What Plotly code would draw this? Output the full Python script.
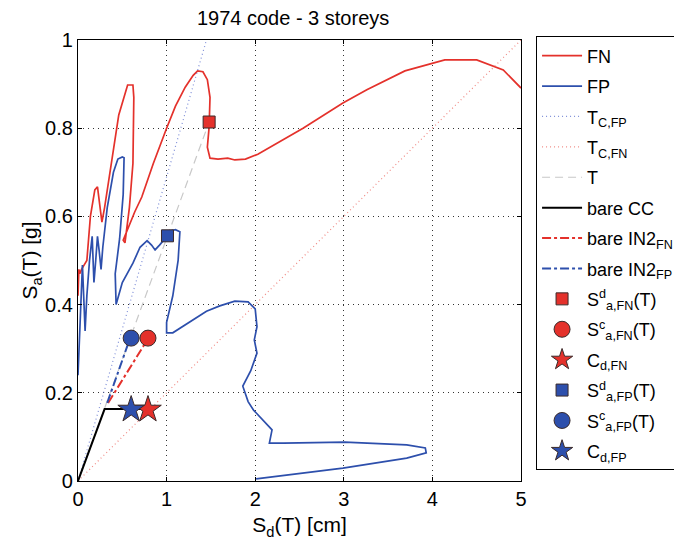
import plotly.graph_objects as go

# ---- data ----
fn_sd = [0.0, 0.01, 0.02, 0.04, 0.07, 0.10, 0.14, 0.19, 0.22, 0.25, 0.27, 0.30, 0.38, 0.46, 0.56, 0.62, 0.63, 0.62, 0.58, 0.53, 0.51,
         0.56, 0.64, 0.72, 0.85, 1.00, 1.10, 1.21, 1.30, 1.35, 1.41, 1.46, 1.49, 1.48, 1.46, 1.49, 1.58, 1.69, 1.77, 1.89,
         2.03, 2.54, 2.99, 3.26, 3.69, 4.14, 4.50, 4.80, 5.0]
fn_sa = [0.42, 0.48, 0.47, 0.48, 0.49, 0.50, 0.60, 0.66, 0.667, 0.62, 0.587, 0.62, 0.73, 0.83, 0.898, 0.898, 0.87, 0.72, 0.62, 0.54, 0.546,
         0.57, 0.61, 0.644, 0.72, 0.80, 0.85, 0.893, 0.92, 0.93, 0.928, 0.91, 0.87, 0.803, 0.757, 0.732, 0.73, 0.732, 0.728, 0.73,
         0.741, 0.80, 0.857, 0.887, 0.93, 0.955, 0.955, 0.932, 0.891]

fp_sd = [0.0, 0.02, 0.04, 0.05, 0.06, 0.08, 0.10, 0.13, 0.16, 0.17, 0.18, 0.20, 0.22, 0.24, 0.26, 0.28, 0.33, 0.40, 0.45, 0.50,
         0.52, 0.51, 0.47, 0.42, 0.43, 0.50, 0.62, 0.70, 0.78, 0.83, 0.87, 0.92, 0.96, 1.01, 1.06, 1.10, 1.15, 1.13, 1.07,
         1.00, 1.00, 1.07, 1.25, 1.45, 1.60, 1.77, 1.92, 2.00, 2.02, 1.99, 2.02, 1.95, 1.86, 1.92, 1.98, 2.08, 2.19, 2.16,
         2.32, 3.01, 3.71, 3.92, 3.93, 3.71, 2.99, 2.01]
fp_sa = [0.24, 0.36, 0.47, 0.49, 0.44, 0.34, 0.42, 0.50, 0.555, 0.50, 0.45, 0.50, 0.555, 0.52, 0.48, 0.53, 0.62, 0.70, 0.73, 0.735,
         0.733, 0.65, 0.55, 0.47, 0.40, 0.45, 0.494, 0.53, 0.545, 0.535, 0.524, 0.535, 0.545, 0.556, 0.568, 0.57, 0.565, 0.50, 0.42,
         0.36, 0.336, 0.336, 0.36, 0.385, 0.397, 0.408, 0.406, 0.39, 0.35, 0.32, 0.29, 0.25, 0.215, 0.18, 0.161, 0.14, 0.116, 0.086,
         0.086, 0.088, 0.082, 0.075, 0.064, 0.052, 0.029, 0.005]

tcfp_sd = [0.0, 1.45]
tcfp_sa = [0.0, 1.0]
tcfn_sd = [0.0, 5.0]
tcfn_sa = [0.0, 1.0]
t_sd = [0.0, 1.48]
t_sa = [0.0, 0.814]
cc_sd = [0.0, 0.30, 0.78]
cc_sa = [0.0, 0.163, 0.163]
in2fn_sd = [0.34, 0.76]
in2fn_sa = [0.177, 0.313]
in2fp_sd = [0.33, 0.56]
in2fp_sa = [0.177, 0.308]

sad_fn = (1.48, 0.814)
sac_fn = (0.79, 0.324)
cd_fn = (0.79, 0.162)
sad_fp = (1.01, 0.556)
sac_fp = (0.60, 0.324)
cd_fp = (0.60, 0.162)

RED = "#e4312b"
BLUE = "#2d4fac"
EDGE = "#3a2a2a"

fig = go.Figure()
def ln(x, y, name, **line):
    fig.add_trace(go.Scatter(x=x, y=y, mode="lines", name=name, legendgroup=name, line=line))

ln(fn_sd, fn_sa, "FN", color=RED, width=1.7)
ln(fp_sd, fp_sa, "FP", color=BLUE, width=1.7)
ln(tcfp_sd, tcfp_sa, "T<sub>C,FP</sub>", color="#7f8fd8", width=1.2, dash="1px,3px")
ln(tcfn_sd, tcfn_sa, "T<sub>C,FN</sub>", color="#f08a84", width=1.2, dash="1px,3px")
ln(t_sd, t_sa, "T", color="#c8c8c8", width=1.2, dash="8px,5px")
ln(cc_sd, cc_sa, "bare CC", color="black", width=2)
ln(in2fn_sd, in2fn_sa, "bare IN2<sub>FN</sub>", color=RED, width=2, dash="dashdot")
ln(in2fp_sd, in2fp_sa, "bare IN2<sub>FP</sub>", color=BLUE, width=2, dash="dashdot")

def mk(pt, name, sym, color, size):
    fig.add_trace(go.Scatter(x=[pt[0]], y=[pt[1]], mode="markers", name=name, legendgroup=name,
                             marker=dict(symbol=sym, color=color, size=size,
                                         line=dict(color=EDGE, width=1))))

mk(sad_fn, "S<sup>d</sup><sub>a,FN</sub>(T)", "square", RED, 12)
mk(sac_fn, "S<sup>c</sup><sub>a,FN</sub>(T)", "circle", RED, 16)
mk(cd_fn, "C<sub>d,FN</sub>", "star", RED, 20)
mk(sad_fp, "S<sup>d</sup><sub>a,FP</sub>(T)", "square", BLUE, 12)
mk(sac_fp, "S<sup>c</sup><sub>a,FP</sub>(T)", "circle", BLUE, 16)
mk(cd_fp, "C<sub>d,FP</sub>", "star", BLUE, 20)

FONT = "Liberation Sans, Arial, sans-serif"
axis_common = dict(showline=True, linecolor="black", linewidth=1.2, mirror="ticks",
                   ticks="inside", ticklen=4, tickcolor="black",
                   showgrid=True, gridcolor="#333333", gridwidth=1, griddash="1px,4px",
                   zeroline=False, tickfont=dict(size=20, color="black"))
# page has an 8px body margin; figure is sized to compensate
fig.update_layout(
    width=674, height=542,
    margin=dict(l=70, r=161, t=32, b=69, autoexpand=False),
    paper_bgcolor="white", plot_bgcolor="white",
    font=dict(family=FONT, color="black"),
    title=dict(text="1974 code - 3 storeys", x=0.423, xanchor="center", y=0.982, yanchor="middle",
               font=dict(size=20)),
    xaxis=dict(range=[0, 5], dtick=1, title=dict(text="S<sub>d</sub>(T) [cm]", font=dict(size=21), standoff=8),
               **axis_common),
    yaxis=dict(range=[0, 1], dtick=0.2, tickformat="~g",
               title=dict(text="S<sub>a</sub>(T) [g]", font=dict(size=21), standoff=1), **axis_common),
    legend=dict(x=1.034, y=1.008, xanchor="left", yanchor="top", bordercolor="black", borderwidth=1,
                font=dict(size=18), itemwidth=40, tracegroupgap=4, bgcolor="white", maxheight=480),
    showlegend=True,
)
fig.write_html("out.html")
